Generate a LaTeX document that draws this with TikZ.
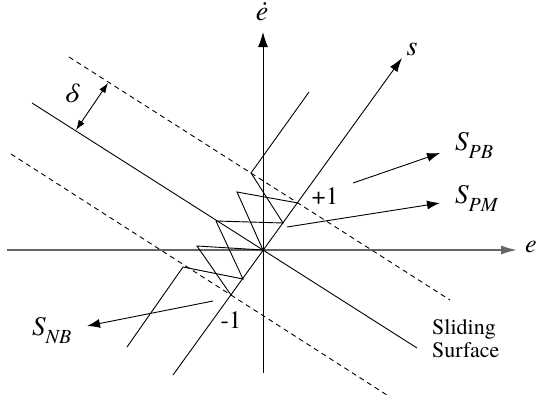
\documentclass[tikz,border=0pt]{standalone}
\usepackage{fontspec}
\setmainfont{TeX Gyre Termes}
\newfontfamily\tms{TeX Gyre Termes}
\usetikzlibrary{arrows.meta}
\newcommand{\Slab}[1]{{\tms\fontsize{27}{27}\selectfont\itshape S\raisebox{-8pt}{\fontsize{20}{20}\selectfont #1}}}
\tikzset{
  ln/.style={line width=0.9pt, black},
  dsh/.style={line width=0.9pt, black, dash pattern=on 5pt off 4pt},
  tip/.style={-{Latex[length=14pt,width=9pt]}},
  lab/.style={inner sep=0pt, font=\tms\fontsize{28}{28}\selectfont\itshape},
  num/.style={inner sep=0pt, font=\tms\fontsize{25}{25}\selectfont},
}
\begin{document}
\begin{tikzpicture}[x=1pt,y=-1pt]
\useasboundingbox (0,0) rectangle (540,402);
% coordinates
\coordinate (O) at (263,250);
\coordinate (eL) at (7,250);
\coordinate (eR) at (517,250);
\coordinate (vB) at (263,373);
\coordinate (vT) at (263,32);
\coordinate (sB) at (173,375);
\coordinate (sT) at (402,58);
\coordinate (ssL) at (32,103);
\coordinate (ssR) at (417,348);
\coordinate (uL) at (69,57);
\coordinate (uR) at (450,300);
\coordinate (lL) at (11,154);
\coordinate (lR) at (390,397);
\coordinate (d1) at (76,130);
\coordinate (d2) at (108,83);
\coordinate (A) at (309,92);
\coordinate (B) at (251,173);
\coordinate (C) at (283,223);
\coordinate (D) at (216,221);
\coordinate (J) at (243,279);
\coordinate (I) at (183,267);
\coordinate (K) at (127,347);
\coordinate (E) at (237,192);
\coordinate (F) at (298,203);
\coordinate (G) at (197,246);
\coordinate (H) at (231,295);
\coordinate (pb0) at (353,183);
\coordinate (pb1) at (440,153);
\coordinate (pm0) at (287,227);
\coordinate (pm1) at (440,203);
\coordinate (nb0) at (213,301);
\coordinate (nb1) at (87,326);
% axes
\draw[line width=1.6pt, black!60, -{Latex[length=16pt,width=9pt]}] (eL) -- (eR);
\draw[line width=1pt, black, -{Latex[length=15pt,width=10pt]}] (vB) -- (vT);
\draw[ln, tip] (sB) -- (sT);
% sliding surface and boundary layer
\draw[ln] (ssL) -- (ssR);
\draw[dsh] (uL) -- (uR);
\draw[dsh] (lL) -- (lR);
\draw[line width=0.9pt, {Latex[length=10pt,width=7pt]}-{Latex[length=10pt,width=7pt]}] (d1) -- (d2);
% chattering trajectories
\draw[ln] (A) -- (B) -- (C) -- (D) -- (J) -- (I) -- (K);
\draw[ln] (F) -- (E) -- (O) -- (G) -- (H);
% pointer arrows
\draw[ln, -{Latex[length=13pt,width=9pt]}] (pb0) -- (pb1);
\draw[ln, -{Latex[length=13pt,width=9pt]}] (pm0) -- (pm1);
\draw[ln, -{Latex[length=13pt,width=9pt]}] (nb0) -- (nb1);
% labels
\node[lab, font=\tms\fontsize{26}{26}\selectfont\itshape] (le) at (531,247) {e};
\node[lab] (led) at (262,12) {ė};
\node[lab] (ls) at (412,49) {s};
\node[lab] (ldelta) at (71,93) {δ};
\node[num] (lp1) at (325,196) {+1};
\node[num] (lm1) at (231,320) {-1};
\node[inner sep=0pt, anchor=base west] (lpb) at (455,150) {\Slab{PB}};
\node[inner sep=0pt, anchor=base west] (lpm) at (455,203) {\Slab{PM}};
\node[inner sep=0pt, anchor=base west] (lnb) at (32,335) {\Slab{NB}};
\node[inner sep=0pt, anchor=base west, align=left, font=\tms\fontsize{22}{23}\selectfont] (lss) at (432,357) {Sliding\\Surface};
\end{tikzpicture}
\end{document}
